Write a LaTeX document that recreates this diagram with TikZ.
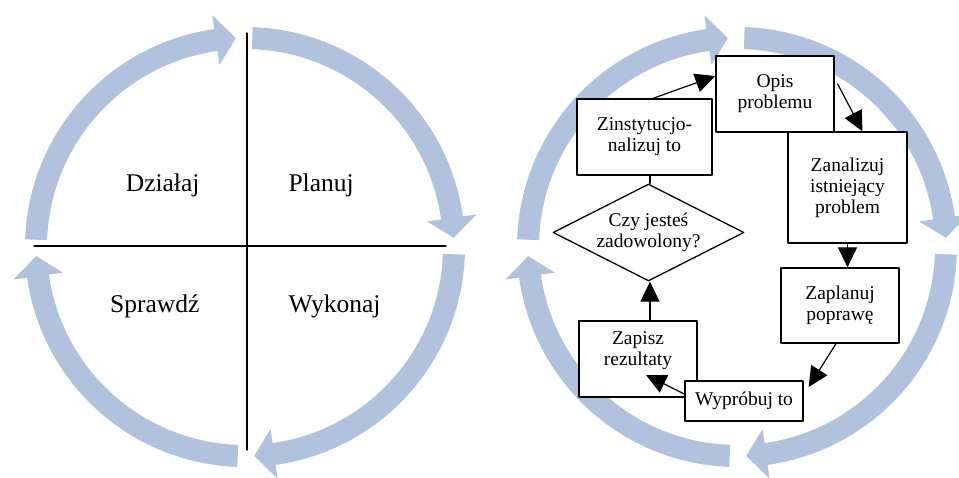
\documentclass[tikz,border=0pt]{standalone}
\usepackage{fontspec}
\setmainfont{Liberation Serif}
\usetikzlibrary{arrows.meta}
\usetikzlibrary{shapes.geometric}
\usetikzlibrary{positioning}

\begin{document}
\begin{tikzpicture}[x=1pt, y=1pt, line cap=round, line join=round]

	\definecolor{ringB}{RGB}{176,194,221}

	\tikzset{
		stepbox/.style={draw=black, line width=1.3pt, fill=white, inner sep=0pt, align=center,
			font=\fontsize{19.5}{21}\selectfont},
		decide/.style={diamond, draw=black, line width=1.3pt, inner sep=0pt, aspect=2, align=center,
			minimum width=191pt, minimum height=97pt, font=\fontsize{19.5}{21}\selectfont},
		arrowK/.style={-{Triangle[length=20pt, width=19pt]}, line width=1.2pt, draw=black},
		quad/.style={font=\fontsize{25.5}{30}\selectfont},
		axisline/.style={black, line width=1.2pt},
	}

	\useasboundingbox (0,0) rectangle (959,477);

	% --- circular arrows (both circles)
	\foreach \cx in {245,737}{
		\begin{scope}[shift={(\cx,230)}]
			\foreach \a [evaluate=\a as \s using \a-2,
			             evaluate=\a as \b using \a-82,
			             evaluate=\a as \t using \a-87.5] in {180,90,0,-90}{
				\fill[ringB] (\s:220) arc[start angle=\s, end angle=\b, radius=220]
					-- (\b:234) -- (\t:209) -- (\b:184) -- (\b:198)
					arc[start angle=\b, end angle=\s, radius=198] -- cycle;
			}
		\end{scope}
	}

	% --- left: PDCA quadrants
	\draw[axisline] (247,444) -- (247,27);
	\draw[axisline] (34,231) -- (446,231);

	\node[quad, anchor=base east] (dzialaj) at (203,285) {Działaj};
	\node[quad, anchor=base west] (planuj)  at (285,285) {Planuj};
	\node[quad, anchor=base east] (sprawdz) at (203,164) {Sprawdź};
	\node[quad, anchor=base west] (wykonaj) at (285,164) {Wykonaj};

	% --- right: flow chart
	\node[stepbox, minimum width=118pt, minimum height=76pt]  (opis)   at (775,383)   {Opis\\problemu};
	\node[stepbox, minimum width=135pt, minimum height=76pt]  (zinst)  at (644.5,340) {Zinstytucjo-\\nalizuj to};
	\node[stepbox, minimum width=119pt, minimum height=111pt] (zanal)  at (847.5,289.5) {Zanalizuj\\istniejący\\problem};
	\node[stepbox, minimum width=118pt, minimum height=75pt]  (zaplan) at (840,171.5) {Zaplanuj\\poprawę};
	\node[stepbox, minimum width=118pt, minimum height=76pt]  (zapisz) at (638,118)   {Zapisz\\rezultaty\\\mbox{}};
	\node[stepbox, minimum width=118pt, minimum height=40pt]  (wyprob) at (744,76)    {Wypróbuj to};
	\node[decide] (dec) at (648.5,244.5) {Czy jesteś\\zadowolony?};

	\draw[arrowK] ([xshift=8.5pt]zinst.north) -- ([yshift=18pt]opis.west);
	\draw[arrowK] ([xshift=3pt, yshift=10pt]opis.east) -- ([xshift=15pt]zanal.north);
	\draw[arrowK] (zanal.south) -- (zanal.south |- zaplan.north);
	\draw[arrowK] ([xshift=-4pt]zaplan.south) -- ([xshift=5pt, yshift=14pt]wyprob.east);
	\draw[arrowK] ([yshift=7pt]wyprob.west) -- ([xshift=8pt, yshift=-16pt]zapisz.center);
	\draw[arrowK] ([xshift=1.5pt]dec.south |- zapisz.north) -- ([xshift=1.5pt]dec.south);
	\draw[line width=1.2pt] ([xshift=1.5pt]dec.north) -- ([xshift=1.5pt]dec.north |- zinst.south);

\end{tikzpicture}
\end{document}
